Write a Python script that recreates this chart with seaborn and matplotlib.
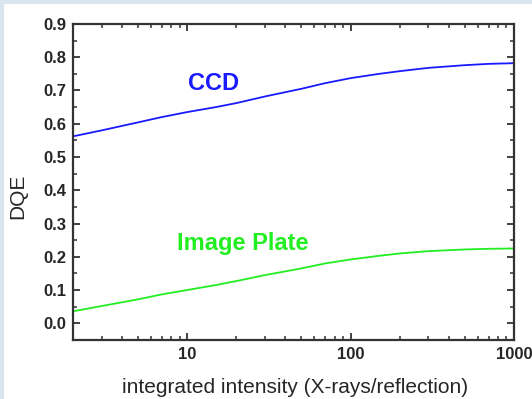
import numpy as np
import pandas as pd
import matplotlib
matplotlib.use("Agg")
import matplotlib.pyplot as plt
import seaborn as sns
from matplotlib.ticker import MultipleLocator, LogLocator, NullFormatter, FixedLocator
from matplotlib.lines import Line2D

# values
intensity = [2, 3, 5, 7, 10, 15, 20, 30, 50, 70, 100, 150, 200, 300, 500, 700, 1000]
dqe_ccd = [0.562, 0.580, 0.604, 0.620, 0.635, 0.650, 0.662, 0.682, 0.705, 0.722,
           0.737, 0.750, 0.758, 0.768, 0.776, 0.780, 0.782]
dqe_ip = [0.036, 0.052, 0.072, 0.087, 0.100, 0.115, 0.127, 0.145, 0.165, 0.180,
          0.192, 0.203, 0.210, 0.217, 0.222, 0.224, 0.225]

df = pd.DataFrame({
    "intensity": intensity * 2,
    "DQE": dqe_ccd + dqe_ip,
    "detector": ["CCD"] * len(intensity) + ["Image Plate"] * len(intensity),
})

sns.set_theme(style="ticks")
plt.rcParams['font.family'] = ['Liberation Sans', 'DejaVu Sans']

fig = plt.figure(figsize=(5.32, 3.99), dpi=100)
ax = fig.add_axes([0.137, 0.148, 0.829, 0.792])

palette = {"CCD": "#1a1aff", "Image Plate": "#22ee22"}
sns.lineplot(data=df, x="intensity", y="DQE", hue="detector", palette=palette,
             linewidth=1.3, legend=False, ax=ax)

ax.set_xscale("log")
ax.set_xlim(2, 1000)
ax.set_ylim(-0.05, 0.9)
ax.set_xticks([10, 100, 1000])
ax.set_xticklabels(["10", "100", "1000"])
ax.xaxis.set_minor_locator(LogLocator(base=10, subs=np.arange(2, 10)))
ax.xaxis.set_minor_formatter(NullFormatter())
ax.yaxis.set_major_locator(FixedLocator(np.round(np.arange(0, 0.91, 0.1), 1)))
ax.yaxis.set_major_formatter(plt.FuncFormatter(lambda v, p: f"{v:.1f}"))
ax.yaxis.set_minor_locator(MultipleLocator(0.05))

ax.tick_params(which="both", direction="in", top=True, right=True, color="#333333")
ax.tick_params(which="major", length=5, width=1.3, labelsize=12, pad=5)
ax.tick_params(which="minor", length=3, width=1.1)
for lab in ax.get_xticklabels() + ax.get_yticklabels():
    lab.set_fontweight("bold")
for s in ax.spines.values():
    s.set_linewidth(1.6)
    s.set_color("#333333")

ax.set_xlabel("integrated intensity (X-rays/reflection)", fontsize=15)
ax.set_ylabel("DQE", fontsize=15)
ax.xaxis.set_label_coords(0.503, -0.12)
ax.yaxis.set_label_coords(-0.104, 0.456)

ax.text(14.5, 0.72, "CCD", color="#1a1aff", fontsize=17, fontweight="bold",
        ha="center", va="center")
ax.text(21.8, 0.24, "Image Plate", color="#22ee22", fontsize=17, fontweight="bold",
        ha="center", va="center")

# light frame on the left and top edges
frame = "#dbe5f0"
fig.lines.append(Line2D([0.003, 0.003], [0, 1], transform=fig.transFigure, color=frame, linewidth=3))
fig.lines.append(Line2D([0, 1], [0.996, 0.996], transform=fig.transFigure, color=frame, linewidth=3))

fig.savefig("out.png", dpi=100)
